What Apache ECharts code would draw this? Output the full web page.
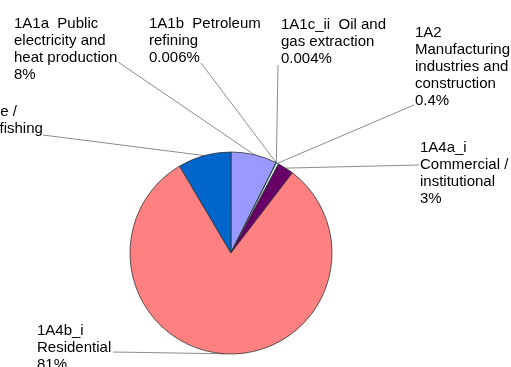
<!DOCTYPE html>
<html>
<head>
<meta charset="utf-8">
<script src="https://cdn.jsdelivr.net/npm/echarts@6/dist/echarts.min.js"></script>
<style>
html,body{margin:0;padding:0;background:#fff;}
#chart{width:511px;height:367px;}
</style>
</head>
<body>
<div id="chart"></div>
<script>
// Data
var categories = [
  '1A1a  Public\nelectricity and\nheat production',
  '1A1b  Petroleum\nrefining',
  '1A1c_ii  Oil and\ngas extraction',
  '1A2\nManufacturing\nindustries and\nconstruction',
  '1A4a_i\nCommercial /\ninstitutional',
  '1A4b_i\nResidential',
  '1A4c_i\nAgriculture /\nforestry / fishing'
];
var values = [7.4, 0.006, 0.004, 0.4, 2.6, 81.1, 8.5];
var pctLabels = ['8%', '0.006%', '0.004%', '0.4%', '3%', '81%', '8%'];
var colors = ['#9999FF', '#993366', '#FFFFCC', '#CCFFFF', '#660066', '#FF8080', '#0066CC'];

// Label placement (layout only)
var labelPos = [
  {x: 14, y: 15, end: [118, 62]},
  {x: 149, y: 15, end: [201, 63]},
  {x: 281, y: 16, end: [278, 65]},
  {x: 415, y: 24, end: [414, 105]},
  {x: 420, y: 139, end: [419, 165]},
  {x: 37, y: 322, end: [113, 352]},
  {x: -63, y: 86, end: [43, 135]}
];

var data = categories.map(function (c, i) {
  return {name: c, value: values[i], itemStyle: {color: colors[i]}};
});

var chart = echarts.init(document.getElementById('chart'), null, {renderer: 'canvas'});
chart.setOption({
  animation: false,
  series: [{
    type: 'pie',
    center: [231, 253],
    radius: 101,
    startAngle: 90,
    clockwise: true,
    minAngle: 0,
    avoidLabelOverlap: false,
    data: data,
    itemStyle: {borderColor: '#333', borderWidth: 0.8},
    emphasis: {disabled: true},
    label: {
      show: true,
      position: 'outside',
      fontFamily: 'Liberation Sans, Arial, sans-serif',
      fontSize: 15,
      lineHeight: 17,
      color: '#000',
      align: 'left',
      formatter: function (p) {
        return p.name + '\n' + pctLabels[p.dataIndex];
      }
    },
    labelLine: {
      show: true,
      length: 10,
      length2: 10,
      lineStyle: {color: '#8c8c8c', width: 1}
    },
    labelLayout: function (params) {
      var lp = labelPos[params.dataIndex];
      var start = params.labelLinePoints ? params.labelLinePoints[0] : lp.end;
      return {
        x: lp.x,
        y: lp.y,
        align: 'left',
        verticalAlign: 'top',
        labelLinePoints: [start, lp.end, lp.end]
      };
    }
  }]
});
</script>
</body>
</html>
